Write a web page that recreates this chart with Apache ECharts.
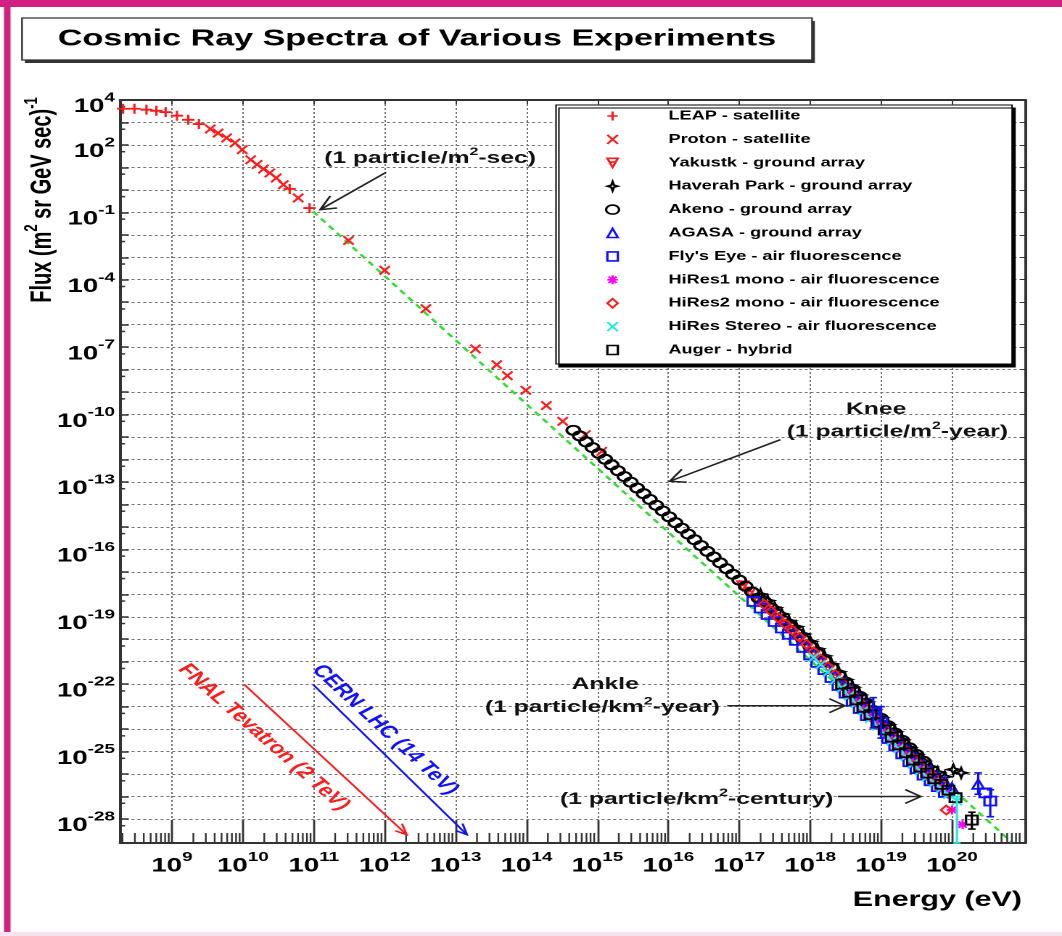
<!DOCTYPE html>
<html>
<head>
<meta charset="utf-8">
<title>Cosmic Ray Spectra of Various Experiments</title>
<script src="https://cdn.jsdelivr.net/npm/echarts@6.0.0/dist/echarts.min.js"></script>
<style>
html, body { margin:0; padding:0; background:#fff; width:1062px; height:936px; overflow:hidden; }
#chart { position:absolute; left:0; top:0; width:732px; height:936px; transform:scaleX(1.450820); transform-origin:0 0; }
</style>
</head>
<body>
<div id="chart"></div>
<script>
// ---------------- data (log10 values) ----------------
const xTickExps = [9, 10, 11, 12, 13, 14, 15, 16, 17, 18, 19, 20];
const yTickExps = [4, 2, -1, -4, -7, -10, -13, -16, -19, -22, -25, -28];
const yGridExps = [-28,-27,-26,-25,-24,-23,-22,-21,-20,-19,-18,-17,-16,-15,-14,-13,-12,-11,-10,-9,-8,-7,-6,-5,-4,-3,-2,-1,0,1,2,3,4];

const seriesNames = ['LEAP - satellite','Proton - satellite','Yakustk - ground array','Haverah Park - ground array','Akeno - ground array','AGASA - ground array',"Fly's Eye - air fluorescence",'HiRes1 mono - air fluorescence','HiRes2 mono - air fluorescence','HiRes Stereo - air fluorescence','Auger - hybrid'];

const leapE = [8.31, 8.47, 8.64, 8.78, 8.91, 9.07, 9.23, 9.38, 10.66, 10.94];
const leapF = [3.61, 3.61, 3.57, 3.52, 3.46, 3.30, 3.12, 2.93, 0.04, -0.81];

const protonE = [9.54, 9.65, 9.77, 9.89, 9.99, 10.11, 10.20, 10.29, 10.38, 10.47, 10.57, 10.78, 11.49, 12.00, 12.58, 13.28, 13.58, 13.73, 13.99, 14.28, 14.51, 14.83, 15.06];
const protonF = [2.71, 2.53, 2.31, 2.09, 1.79, 1.34, 1.13, 0.93, 0.75, 0.53, 0.23, -0.36, -2.25, -3.58, -5.29, -7.08, -7.78, -8.27, -8.92, -9.60, -10.30, -10.90, -11.64];

const yakutskE = [17.05,17.15,17.25,17.35,17.45,17.55,17.65,17.75,17.85,17.95,18.05,18.15,18.25,18.35,18.45,18.55,18.65,18.75,18.85,18.95,19.05,19.15,19.25,19.35,19.45,19.55,19.65,19.75,19.85];
const yakutskF = [-17.62,-17.90,-18.20,-18.50,-18.80,-19.10,-19.38,-19.66,-19.95,-20.28,-20.60,-20.93,-21.27,-21.62,-21.97,-22.33,-22.66,-22.99,-23.33,-23.68,-24.02,-24.33,-24.68,-25.02,-25.35,-25.66,-25.92,-26.20,-26.46];

const haverahE = [17.30,17.40,17.50,17.60,17.70,17.80,17.90,18.00,18.10,18.20,18.30,18.40,18.50,18.60,18.70,18.80,18.90,19.00,19.10,19.20,19.30,19.40,19.50,19.60,19.70,19.80,19.90,20.02,20.13];
const haverahF = [-18.00,-18.28,-18.59,-18.88,-19.18,-19.44,-19.77,-20.09,-20.42,-20.74,-21.10,-21.44,-21.79,-22.14,-22.48,-22.79,-23.14,-23.48,-23.80,-24.12,-24.48,-24.82,-25.12,-25.42,-25.68,-25.92,-26.12,-25.80,-25.95];

const akenoE = [14.66,14.75,14.84,14.93,15.02,15.11,15.20,15.29,15.38,15.47,15.56,15.65,15.74,15.83,15.92,16.01,16.10,16.19,16.28,16.37,16.46,16.55,16.64,16.73,16.82,16.91,17.00,17.09,17.18,17.27,17.36,17.45,17.54,17.63,17.72,17.81,17.90,18.00,18.10,18.20,18.30,18.40,18.50,18.60,18.70,18.80,18.90,19.00,19.10,19.20,19.30,19.40,19.50,19.60];
const akenoF = [-10.70,-10.95,-11.22,-11.47,-11.73,-11.99,-12.24,-12.50,-12.76,-13.01,-13.27,-13.52,-13.78,-14.04,-14.29,-14.55,-14.81,-15.06,-15.32,-15.57,-15.83,-16.09,-16.34,-16.60,-16.86,-17.11,-17.37,-17.64,-17.90,-18.17,-18.33,-18.61,-18.89,-19.18,-19.45,-19.73,-20.01,-20.32,-20.63,-20.94,-21.26,-21.58,-21.90,-22.22,-22.54,-22.86,-23.18,-23.52,-23.85,-24.18,-24.50,-24.83,-25.13,-25.43];

const agasaE = [18.50,18.60,18.70,18.80,18.90,19.00,19.10,19.20,19.30,19.40,19.50,19.60,19.70,19.80,19.90,20.00,20.37];
const agasaF = [-21.95,-22.31,-22.63,-22.97,-23.29,-23.65,-23.98,-24.31,-24.65,-24.99,-25.31,-25.61,-25.84,-26.11,-26.35,-26.61,-26.45];

const flysE = [17.20,17.30,17.40,17.50,17.60,17.70,17.80,17.90,18.00,18.10,18.20,18.30,18.40,18.50,18.60,18.70,18.80,18.89,19.00,19.10,19.20,19.30,19.40,19.50,19.60,19.70,19.80,19.90,20.47,20.54];
const flysF = [-18.32,-18.61,-18.90,-19.21,-19.50,-19.78,-20.05,-20.37,-20.70,-21.03,-21.35,-21.70,-22.06,-22.40,-22.76,-23.08,-23.40,-23.28,-23.70,-24.42,-24.75,-25.10,-25.45,-25.76,-26.05,-26.30,-26.56,-26.82,-26.84,-27.20];

const hires1E = [18.55,18.65,18.75,18.85,18.95,19.05,19.15,19.25,19.35,19.45,19.55,19.65,19.75,19.85,19.95,20.00,20.15];
const hires1F = [-22.48,-22.82,-23.14,-23.48,-23.82,-24.17,-24.50,-24.84,-25.18,-25.50,-25.80,-26.08,-26.34,-26.62,-26.90,-27.60,-28.25];

const hires2E = [17.35,17.45,17.55,17.65,17.75,17.85,17.95,18.05,18.15,18.25,18.35,18.45,18.55,18.65,18.75,18.85,18.95,19.05,19.15,19.25,19.35,19.45,19.55,19.65,19.75,19.85,19.92];
const hires2F = [-18.45,-18.75,-19.05,-19.33,-19.61,-19.91,-20.23,-20.56,-20.88,-21.22,-21.57,-21.92,-22.27,-22.61,-22.94,-23.27,-23.62,-23.96,-24.28,-24.62,-24.97,-25.30,-25.60,-25.88,-26.12,-26.40,-27.60];

const stereoE = [18.05,18.15,18.25,18.35,18.45,18.55,18.65,18.75,18.85,18.95,19.05,19.15,19.25,19.35,19.45,19.55,19.65,19.75,19.85,19.95,20.07];
const stereoF = [-20.81,-21.13,-21.47,-21.82,-22.17,-22.53,-22.86,-23.19,-23.53,-23.87,-24.21,-24.53,-24.87,-25.22,-25.55,-25.85,-26.13,-26.38,-26.64,-26.91,-27.20];

const augerE = [18.45,18.55,18.65,18.75,18.85,18.95,19.05,19.15,19.25,19.35,19.45,19.55,19.65,19.75,19.85,19.95,20.05,20.28];
const augerF = [-22.00,-22.36,-22.70,-23.03,-23.36,-23.71,-24.04,-24.36,-24.70,-25.05,-25.38,-25.69,-25.96,-26.21,-26.46,-26.72,-27.05,-28.05];

// error bars: [logE, upper logF, lower logF]
const agasaErr = [[20.37, -25.95, -26.90]];
const flysErr = [[18.89, -22.60, -23.95], [19.00, -23.00, -24.40], [20.54, -26.70, -27.90]];
const augerErr = [[20.28, -27.70, -28.45]];
const stereoErr = [[20.07, -27.00, -29.07]];

// dashed reference line end points
const fitLine = [[10.99, -0.96], [20.85, -29.06]];

// annotations (data space)
const annoLabels = ['(1 particle/m²-sec)', 'Knee', '(1 particle/m²-year)', 'Ankle', '(1 particle/km²-year)', '(1 particle/km²-century)', 'FNAL Tevatron (2 TeV)', 'CERN LHC (14 TeV)'];
const annoE = [12.64, 18.93, 19.23, 15.11, 15.07, 16.40, 10.32, 12.03];
const annoF = [1.48, -9.69, -10.71, -21.93, -22.96, -27.05, -24.32, -23.99];
const arrowSegs = [
  [12.02, 0.78, 11.09, -0.88],
  [17.58, -11.12, 16.02, -12.97],
  [16.83, -22.96, 18.49, -22.96],
  [18.39, -27.00, 19.56, -27.00],
  [10.02, -22.02, 12.31, -28.70],
  [10.99, -22.02, 13.16, -28.70]
];

// ---------------- layout / styles ----------------
const S = 1062 / 732;
const FONT = "'Liberation Sans', Arial, Helvetica, sans-serif";
const X_MIN = 8.267, X_MAX = 21.03, Y_MIN = -29.07, Y_MAX = 4.0;
const RED = '#ff1a1a', BLUE = '#1010ff', BLACK = '#000000', MAGENTA = '#ff00ff', CYAN = '#22e8e8';
const arrowColors = ['#222', '#222', '#222', '#222', RED, BLUE];
const annoColors = ['#111', '#111', '#111', '#111', '#111', '#111', RED, BLUE];
const annoRot = [0, 0, 0, 0, 0, 0, -0.902, -0.925];

const SYM = {
  plus: 'path://M0,5H8M4,0V10',
  cross: 'path://M0,0L8,10M8,0L0,10',
  ytri: 'path://M0,0H8L4,10ZM1.7,4.2H6.3',
  star: 'path://M4,0L5,3.8L8,5L5,6.2L4,10L3,6.2L0,5L3,3.8Z',
  tri: 'path://M4,0L8,10H0Z',
  square: 'path://M0,0H8V10H0Z',
  aster: 'path://M0,5H8M4,0V10M1,1.5L7,8.5M7,1.5L1,8.5',
  diamond: 'path://M4,0L8,5L4,10L0,5Z'
};

function pairs(E, F) { return E.map((e, i) => [e, F[i]]); }
function scat(name, E, F, symbol, color, size, bw) {
  return {
    type: 'scatter', name: name, data: pairs(E, F), symbol: symbol, symbolSize: size,
    itemStyle: { color: 'none', borderColor: color, borderWidth: bw || 1.7, opacity: 1 },
    silent: true, z: 3, animation: false
  };
}
function errSeries(data, color) {
  return {
    type: 'custom', silent: true, z: 5, data: data,
    renderItem: function (params, api) {
      const x = api.value(0);
      const p1 = api.coord([x, api.value(1)]);
      const p2 = api.coord([x, api.value(2)]);
      const c = 2.6;
      const st = { stroke: color, lineWidth: 1.6 };
      return { type: 'group', children: [
        { type: 'line', shape: { x1: p1[0], y1: p1[1], x2: p2[0], y2: p2[1] }, style: st },
        { type: 'line', shape: { x1: p1[0] - c, y1: p1[1], x2: p1[0] + c, y2: p1[1] }, style: st },
        { type: 'line', shape: { x1: p2[0] - c, y1: p2[1], x2: p2[0] + c, y2: p2[1] }, style: st }
      ] };
    }
  };
}

const xMinor = [];
for (let n = 8; n <= 20; n++) for (let k = 2; k <= 9; k++) {
  const v = n + Math.log10(k);
  if (v > X_MIN && v < X_MAX) xMinor.push([v, Y_MIN]);
}
const yMinor = [];
yGridExps.forEach(function (n) { const v = n - Math.log10(2); if (v > Y_MIN) yMinor.push([X_MIN, v]); });

const tickRich = {
  b: { fontFamily: FONT, fontWeight: 'bold', fontSize: 19, color: '#000', lineHeight: 25, verticalAlign: 'bottom' },
  e: { fontFamily: FONT, fontWeight: 'bold', fontSize: 13, color: '#000', lineHeight: 11, verticalAlign: 'top' }
};
function expLabel(v) { return '{b|10}{e|' + v + '}'; }

const annoRich = {
  t: { fontFamily: FONT, fontWeight: 'bold', fontSize: 17, lineHeight: 20, verticalAlign: 'bottom' },
  s: { fontFamily: FONT, fontWeight: 'bold', fontSize: 11, lineHeight: 11, verticalAlign: 'top' }
};
function richify(str) { return '{t|' + str.replace('²', '}{s|2}{t|') + '}'; }

const gridLine = { show: true, lineStyle: { color: '#727272', width: 1, type: [2, 2] } };
const frameLine = { show: true, onZero: false, lineStyle: { color: '#333', width: 2 } };

const chart = echarts.init(document.getElementById('chart'), null, { renderer: 'canvas', devicePixelRatio: 2 });
chart.setOption({
  animation: false,
  backgroundColor: '#fff',
  grid: { left: 120 / S, right: 732 - 1025 / S, top: 100, bottom: 936 - 843, outerBoundsMode: 'none' },
  xAxis: [
    { type: 'value', min: X_MIN, max: X_MAX, position: 'bottom', axisLine: frameLine,
      axisTick: { show: true, inside: true, length: 23, customValues: xTickExps, lineStyle: { color: '#333', width: 1.4 } },
      axisLabel: { customValues: xTickExps, formatter: expLabel, rich: tickRich, margin: 8, color: '#000' },
      splitLine: gridLine },
    { type: 'value', min: X_MIN, max: X_MAX, position: 'top', axisLine: frameLine,
      axisTick: { show: true, inside: true, length: 4, customValues: xTickExps, lineStyle: { color: '#333', width: 1 } },
      axisLabel: { show: false }, splitLine: { show: false } }
  ],
  yAxis: [
    { type: 'value', min: Y_MIN, max: Y_MAX, position: 'left', axisLine: frameLine,
      axisTick: { show: true, inside: true, length: 6, customValues: yGridExps, lineStyle: { color: '#333', width: 1.5 } },
      axisLabel: { customValues: yTickExps, formatter: expLabel, rich: tickRich, margin: 3.5, padding: [8, 0, 0, 0], color: '#000' },
      splitLine: gridLine },
    { type: 'value', min: Y_MIN, max: Y_MAX, position: 'right', axisLine: frameLine,
      axisTick: { show: true, inside: true, length: 3.5, customValues: yGridExps, lineStyle: { color: '#333', width: 1 } },
      axisLabel: { show: false }, splitLine: { show: false } }
  ],
  legend: {
    orient: 'vertical', left: 556 / S, top: 105,
    itemWidth: 67, itemHeight: 9, itemGap: 9.4,
    padding: [4, 50, 7, 32],
    backgroundColor: '#fff', borderColor: '#000', borderWidth: 1,
    shadowColor: '#000', shadowOffsetX: 2, shadowOffsetY: 3, shadowBlur: 0,
    textStyle: { fontFamily: FONT, fontWeight: 'bold', fontSize: 12.5, color: '#000', lineHeight: 14 },
    itemStyle: { borderWidth: 1.6 },
    selectedMode: false,
    data: seriesNames
  },
  graphic: [
    { type: 'rect', silent: true, shape: { x: 0, y: 0, width: 732, height: 7 }, style: { fill: '#d1207f' } },
    { type: 'rect', silent: true, shape: { x: 4 / S, y: 0, width: 6.5 / S, height: 936 }, style: { fill: '#d1207f' } },
    { type: 'rect', silent: true, shape: { x: 0, y: 932, width: 732, height: 4 }, style: { fill: '#f6e3ee' } },
    { type: 'rect', silent: true, shape: { x: 22 / S + 2, y: 21, width: 790 / S, height: 42 }, style: { fill: '#333' } },
    { type: 'rect', silent: true, shape: { x: 22 / S, y: 18, width: 790 / S, height: 42 }, style: { fill: '#fff', stroke: '#333', lineWidth: 1.2 } },
    { type: 'text', silent: true, x: (22 + 395) / S, y: 39, style: { text: 'Cosmic Ray Spectra of Various Experiments', fontFamily: FONT, fontWeight: 'bold', fontSize: 23.5, fill: '#000', align: 'center', verticalAlign: 'middle' } },
    { type: 'text', silent: true, x: 40 / S, y: 200, rotation: Math.PI / 2,
      style: { text: '{a|Flux (m}{s|2}{a| sr GeV sec)}{s|-1}', align: 'center', verticalAlign: 'middle', fill: '#000',
        rich: { a: { fontFamily: FONT, fontWeight: 'bold', fontSize: 20, lineHeight: 24, verticalAlign: 'bottom' },
                s: { fontFamily: FONT, fontWeight: 'bold', fontSize: 13, lineHeight: 12, verticalAlign: 'top' } } } },
    { type: 'text', silent: true, x: 1022 / S, y: 900, style: { text: 'Energy (eV)', fontFamily: FONT, fontWeight: 'bold', fontSize: 21, fill: '#000', align: 'right', verticalAlign: 'middle' } }
  ],
  series: [
    { type: 'line', name: 'fit', data: fitLine, symbol: 'none', silent: true, z: 1,
      lineStyle: { color: '#33dd33', width: 2, type: [5, 4] } },
    { type: 'custom', name: 'xminor', silent: true, z: 2, data: xMinor,
      renderItem: function (params, api) {
        const p = api.coord([api.value(0), Y_MIN]);
        return { type: 'line', shape: { x1: p[0], y1: p[1], x2: p[0], y2: p[1] - 10 }, style: { stroke: '#333', lineWidth: 1.2 } };
      } },
    { type: 'custom', name: 'yminor', silent: true, z: 2, data: yMinor,
      renderItem: function (params, api) {
        const p = api.coord([X_MIN, api.value(1)]);
        return { type: 'line', shape: { x1: p[0], y1: p[1], x2: p[0] + 3.5, y2: p[1] }, style: { stroke: '#333', lineWidth: 1.5 } };
      } },
    scat(seriesNames[0], leapE, leapF, SYM.plus, RED, [8.5, 10]),
    scat(seriesNames[1], protonE, protonF, SYM.cross, RED, [7, 8.5]),
    scat(seriesNames[2], yakutskE, yakutskF, SYM.ytri, RED, [7.5, 9]),
    scat(seriesNames[3], haverahE, haverahF, SYM.star, BLACK, [8.5, 10]),
    scat(seriesNames[4], akenoE, akenoF, 'circle', BLACK, 9, 1.9),
    scat(seriesNames[5], agasaE, agasaF, SYM.tri, BLUE, [8, 9.5]),
    scat(seriesNames[6], flysE, flysF, SYM.square, BLUE, [8, 9]),
    scat(seriesNames[7], hires1E, hires1F, SYM.aster, MAGENTA, [7.5, 9]),
    scat(seriesNames[8], hires2E, hires2F, SYM.diamond, RED, [7.5, 9]),
    scat(seriesNames[9], stereoE, stereoF, SYM.cross, CYAN, [7, 8.5]),
    scat(seriesNames[10], augerE, augerF, SYM.square, BLACK, [8, 9]),
    errSeries(agasaErr, BLUE),
    errSeries(flysErr, BLUE),
    errSeries(augerErr, BLACK),
    errSeries(stereoErr, CYAN),
    { type: 'custom', name: 'arrows', silent: true, z: 6, data: arrowSegs,
      renderItem: function (params, api) {
        const i = params.dataIndex;
        const a = api.coord([api.value(0), api.value(1)]);
        const b = api.coord([api.value(2), api.value(3)]);
        const col = arrowColors[i];
        const L = i < 4 ? 17 : 12;
        const h = 0.42;
        const ax = a[0] * S, bx = b[0] * S;
        const ang = Math.atan2(b[1] - a[1], bx - ax);
        const p1 = [(bx - L * Math.cos(ang - h)) / S, b[1] - L * Math.sin(ang - h)];
        const p2 = [(bx - L * Math.cos(ang + h)) / S, b[1] - L * Math.sin(ang + h)];
        return { type: 'group', children: [
          { type: 'line', shape: { x1: a[0], y1: a[1], x2: b[0], y2: b[1] }, style: { stroke: col, lineWidth: 1.5 } },
          { type: 'polyline', shape: { points: [p1, b, p2] }, style: { stroke: col, lineWidth: 1.5, fill: null } }
        ] };
      } },
    { type: 'custom', name: 'notes', silent: true, z: 7, data: pairs(annoE, annoF),
      renderItem: function (params, api) {
        const i = params.dataIndex;
        const p = api.coord([api.value(0), api.value(1)]);
        return { type: 'text', x: p[0], y: p[1], rotation: annoRot[i],
          style: { text: richify(annoLabels[i]), rich: annoRich, fill: annoColors[i], align: 'center', verticalAlign: 'middle' } };
      } }
  ]
});
</script>
</body>
</html>
